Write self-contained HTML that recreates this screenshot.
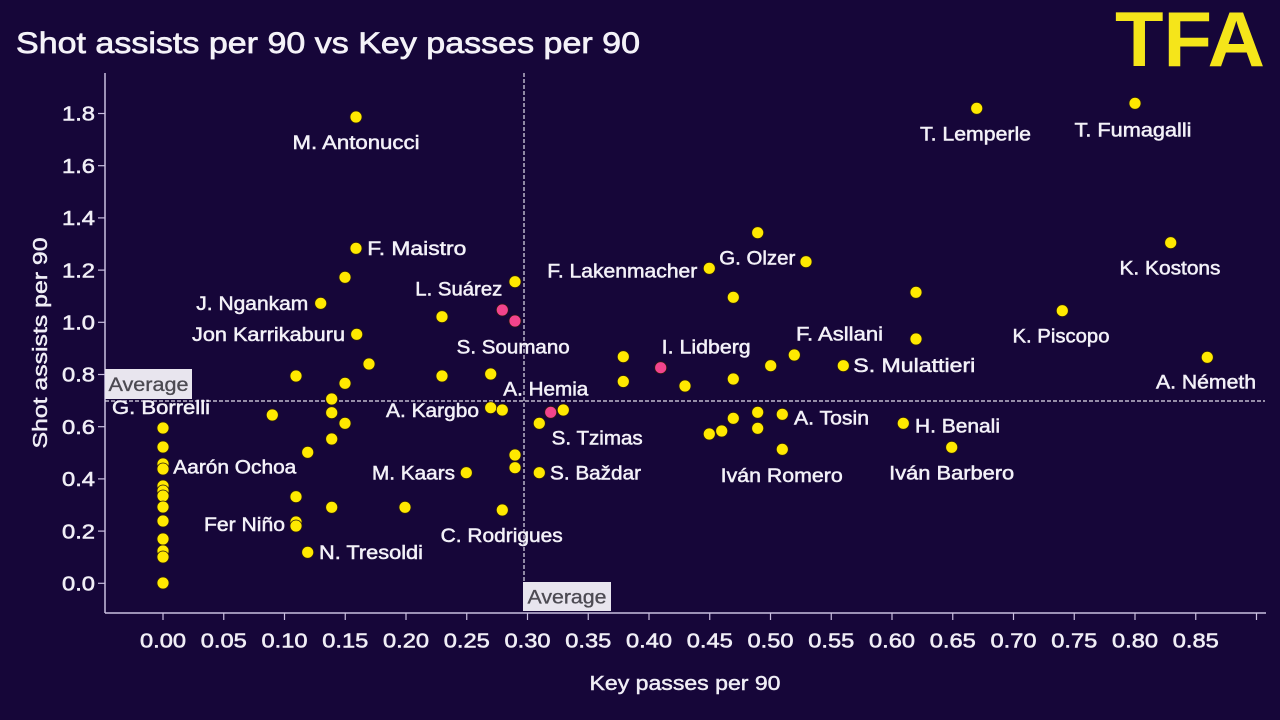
<!DOCTYPE html>
<html>
<head>
<meta charset="utf-8">
<style>
html,body{margin:0;padding:0;background:#160639;}
svg{display:block;}
text{font-family:"Liberation Sans",sans-serif;}
</style>
</head>
<body>
<svg width="1280" height="720" viewBox="0 0 1280 720" xmlns="http://www.w3.org/2000/svg">
<rect width="1280" height="720" fill="#160639"/>
<!-- Title -->
<text x="16" y="53" font-size="30" fill="#f4f2f8" stroke="#f4f2f8" stroke-width="0.7" textLength="624" lengthAdjust="spacingAndGlyphs">Shot assists per 90 vs Key passes per 90</text>
<!-- Logo -->
<text x="1115" y="66" font-size="78" font-weight="bold" fill="#f5e51a" textLength="150" lengthAdjust="spacingAndGlyphs">TFA</text>

<!-- Axes -->
<line x1="105" y1="73" x2="105" y2="613" stroke="#c9bfe0" stroke-width="1.5"/>
<line x1="105" y1="613" x2="1266" y2="613" stroke="#c9bfe0" stroke-width="1.5"/>

<!-- Y ticks -->
<g stroke="#c9bfe0" stroke-width="1.2">
<line x1="98" y1="583.3" x2="105" y2="583.3"/>
<line x1="98" y1="531.1" x2="105" y2="531.1"/>
<line x1="98" y1="478.9" x2="105" y2="478.9"/>
<line x1="98" y1="426.7" x2="105" y2="426.7"/>
<line x1="98" y1="374.5" x2="105" y2="374.5"/>
<line x1="98" y1="322.3" x2="105" y2="322.3"/>
<line x1="98" y1="270.1" x2="105" y2="270.1"/>
<line x1="98" y1="217.9" x2="105" y2="217.9"/>
<line x1="98" y1="165.7" x2="105" y2="165.7"/>
<line x1="98" y1="113.5" x2="105" y2="113.5"/>
</g>
<g font-size="20" fill="#f0eef6" stroke="#f0eef6" stroke-width="0.55" text-anchor="end">
<text x="95" y="590.5" textLength="33" lengthAdjust="spacingAndGlyphs">0.0</text>
<text x="95" y="538.3" textLength="33" lengthAdjust="spacingAndGlyphs">0.2</text>
<text x="95" y="486.1" textLength="33" lengthAdjust="spacingAndGlyphs">0.4</text>
<text x="95" y="433.9" textLength="33" lengthAdjust="spacingAndGlyphs">0.6</text>
<text x="95" y="381.7" textLength="33" lengthAdjust="spacingAndGlyphs">0.8</text>
<text x="95" y="329.5" textLength="33" lengthAdjust="spacingAndGlyphs">1.0</text>
<text x="95" y="277.3" textLength="33" lengthAdjust="spacingAndGlyphs">1.2</text>
<text x="95" y="225.1" textLength="33" lengthAdjust="spacingAndGlyphs">1.4</text>
<text x="95" y="172.9" textLength="33" lengthAdjust="spacingAndGlyphs">1.6</text>
<text x="95" y="120.7" textLength="33" lengthAdjust="spacingAndGlyphs">1.8</text>
</g>

<!-- X ticks -->
<g stroke="#c9bfe0" stroke-width="1.2">
<line x1="163" y1="613" x2="163" y2="620"/>
<line x1="223.75" y1="613" x2="223.75" y2="620"/>
<line x1="284.5" y1="613" x2="284.5" y2="620"/>
<line x1="345.25" y1="613" x2="345.25" y2="620"/>
<line x1="406" y1="613" x2="406" y2="620"/>
<line x1="466.75" y1="613" x2="466.75" y2="620"/>
<line x1="527.5" y1="613" x2="527.5" y2="620"/>
<line x1="588.25" y1="613" x2="588.25" y2="620"/>
<line x1="649" y1="613" x2="649" y2="620"/>
<line x1="709.75" y1="613" x2="709.75" y2="620"/>
<line x1="770.5" y1="613" x2="770.5" y2="620"/>
<line x1="831.25" y1="613" x2="831.25" y2="620"/>
<line x1="892" y1="613" x2="892" y2="620"/>
<line x1="952.75" y1="613" x2="952.75" y2="620"/>
<line x1="1013.5" y1="613" x2="1013.5" y2="620"/>
<line x1="1074.25" y1="613" x2="1074.25" y2="620"/>
<line x1="1135" y1="613" x2="1135" y2="620"/>
<line x1="1195.75" y1="613" x2="1195.75" y2="620"/>
<line x1="1256.5" y1="613" x2="1256.5" y2="620"/>
</g>
<g font-size="20" fill="#f0eef6" stroke="#f0eef6" stroke-width="0.55" text-anchor="middle">
<text x="163" y="647.5" textLength="46" lengthAdjust="spacingAndGlyphs">0.00</text>
<text x="223.75" y="647.5" textLength="46" lengthAdjust="spacingAndGlyphs">0.05</text>
<text x="284.5" y="647.5" textLength="46" lengthAdjust="spacingAndGlyphs">0.10</text>
<text x="345.25" y="647.5" textLength="46" lengthAdjust="spacingAndGlyphs">0.15</text>
<text x="406" y="647.5" textLength="46" lengthAdjust="spacingAndGlyphs">0.20</text>
<text x="466.75" y="647.5" textLength="46" lengthAdjust="spacingAndGlyphs">0.25</text>
<text x="527.5" y="647.5" textLength="46" lengthAdjust="spacingAndGlyphs">0.30</text>
<text x="588.25" y="647.5" textLength="46" lengthAdjust="spacingAndGlyphs">0.35</text>
<text x="649" y="647.5" textLength="46" lengthAdjust="spacingAndGlyphs">0.40</text>
<text x="709.75" y="647.5" textLength="46" lengthAdjust="spacingAndGlyphs">0.45</text>
<text x="770.5" y="647.5" textLength="46" lengthAdjust="spacingAndGlyphs">0.50</text>
<text x="831.25" y="647.5" textLength="46" lengthAdjust="spacingAndGlyphs">0.55</text>
<text x="892" y="647.5" textLength="46" lengthAdjust="spacingAndGlyphs">0.60</text>
<text x="952.75" y="647.5" textLength="46" lengthAdjust="spacingAndGlyphs">0.65</text>
<text x="1013.5" y="647.5" textLength="46" lengthAdjust="spacingAndGlyphs">0.70</text>
<text x="1074.25" y="647.5" textLength="46" lengthAdjust="spacingAndGlyphs">0.75</text>
<text x="1135" y="647.5" textLength="46" lengthAdjust="spacingAndGlyphs">0.80</text>
<text x="1195.75" y="647.5" textLength="46" lengthAdjust="spacingAndGlyphs">0.85</text>
</g>

<!-- Axis titles -->
<text x="685" y="690" font-size="20" fill="#f0eef6" stroke="#f0eef6" stroke-width="0.45" text-anchor="middle" textLength="191" lengthAdjust="spacingAndGlyphs">Key passes per 90</text>
<text transform="translate(47,343) rotate(-90)" x="0" y="0" font-size="20" fill="#f0eef6" stroke="#f0eef6" stroke-width="0.45" text-anchor="middle" textLength="211" lengthAdjust="spacingAndGlyphs">Shot assists per 90</text>

<!-- Average lines -->
<line x1="105" y1="401" x2="1265" y2="401" stroke="#e2deec" stroke-width="1.2" stroke-dasharray="4,2"/>
<line x1="524" y1="73" x2="524" y2="613" stroke="#e2deec" stroke-width="1.2" stroke-dasharray="4,2"/>

<!-- Dots -->
<g fill="#ffe900" stroke="#2a1a10" stroke-width="0.8">
<circle cx="163" cy="428" r="6"/>
<circle cx="163" cy="447" r="6"/>
<circle cx="163" cy="464" r="6"/>
<circle cx="163" cy="469" r="6"/>
<circle cx="163" cy="486" r="6"/>
<circle cx="163" cy="491" r="6"/>
<circle cx="163" cy="496" r="6"/>
<circle cx="163" cy="507" r="6"/>
<circle cx="163" cy="521" r="6"/>
<circle cx="163" cy="539" r="6"/>
<circle cx="163" cy="551" r="6"/>
<circle cx="163" cy="557" r="6"/>
<circle cx="163" cy="583" r="6"/>
<circle cx="272.3" cy="415" r="6"/>
<circle cx="296" cy="376" r="6"/>
<circle cx="296" cy="496.7" r="6"/>
<circle cx="296" cy="522" r="6"/>
<circle cx="296" cy="526" r="6"/>
<circle cx="307.7" cy="452.3" r="6"/>
<circle cx="307.7" cy="552.3" r="6"/>
<circle cx="331.7" cy="399" r="6"/>
<circle cx="331.7" cy="412.7" r="6"/>
<circle cx="331.7" cy="439" r="6"/>
<circle cx="331.7" cy="507.3" r="6"/>
<circle cx="345" cy="383.3" r="6"/>
<circle cx="345" cy="423.3" r="6"/>
<circle cx="345" cy="277.3" r="6"/>
<circle cx="369" cy="364" r="6"/>
<circle cx="356" cy="248.3" r="6"/>
<circle cx="320.7" cy="303.3" r="6"/>
<circle cx="356.7" cy="334.3" r="6"/>
<circle cx="356" cy="117" r="6"/>
<circle cx="405" cy="507.3" r="6"/>
<circle cx="442" cy="316.7" r="6"/>
<circle cx="442" cy="376" r="6"/>
<circle cx="490.7" cy="374" r="6"/>
<circle cx="490.7" cy="407.7" r="6"/>
<circle cx="502.3" cy="410" r="6"/>
<circle cx="515" cy="455" r="6"/>
<circle cx="515" cy="467.7" r="6"/>
<circle cx="466.3" cy="472.7" r="6"/>
<circle cx="502.3" cy="510" r="6"/>
<circle cx="515" cy="281.7" r="6"/>
<circle cx="539.3" cy="423.3" r="6"/>
<circle cx="563.3" cy="410" r="6"/>
<circle cx="539.3" cy="472.7" r="6"/>
<circle cx="623.3" cy="356.7" r="6"/>
<circle cx="623.3" cy="381.5" r="6"/>
<circle cx="685" cy="386" r="6"/>
<circle cx="733.3" cy="379" r="6"/>
<circle cx="770.7" cy="365.7" r="6"/>
<circle cx="709.3" cy="434" r="6"/>
<circle cx="721.7" cy="431" r="6"/>
<circle cx="733.3" cy="418.3" r="6"/>
<circle cx="757.7" cy="412.3" r="6"/>
<circle cx="757.7" cy="428.3" r="6"/>
<circle cx="782.3" cy="414.3" r="6"/>
<circle cx="782.3" cy="449.3" r="6"/>
<circle cx="757.7" cy="232.7" r="6"/>
<circle cx="806" cy="261.7" r="6"/>
<circle cx="709.3" cy="268.3" r="6"/>
<circle cx="733.3" cy="297.3" r="6"/>
<circle cx="916" cy="292.3" r="6"/>
<circle cx="916" cy="339" r="6"/>
<circle cx="794.3" cy="355" r="6"/>
<circle cx="843.3" cy="365.7" r="6"/>
<circle cx="976.7" cy="108.3" r="6"/>
<circle cx="1135" cy="103.3" r="6"/>
<circle cx="1170.7" cy="242.7" r="6"/>
<circle cx="1062.3" cy="310.7" r="6"/>
<circle cx="1207.3" cy="357.3" r="6"/>
<circle cx="903.3" cy="423.3" r="6"/>
<circle cx="951.7" cy="447.3" r="6"/>
</g>
<g fill="#f2448c" stroke="#2a1a10" stroke-width="0.8">
<circle cx="502.3" cy="310" r="6"/>
<circle cx="515" cy="321" r="6"/>
<circle cx="550.7" cy="412.3" r="6"/>
<circle cx="660.7" cy="367.7" r="6"/>
</g>

<!-- Labels -->
<g font-size="19" fill="#f3f1f8" stroke="#f3f1f8" stroke-width="0.5">
<text x="356" y="149" text-anchor="middle" textLength="127" lengthAdjust="spacingAndGlyphs">M. Antonucci</text>
<text x="975.5" y="140.3" text-anchor="middle" textLength="111" lengthAdjust="spacingAndGlyphs">T. Lemperle</text>
<text x="1133" y="136.3" text-anchor="middle" textLength="117" lengthAdjust="spacingAndGlyphs">T. Fumagalli</text>
<text x="1170" y="274.7" text-anchor="middle" textLength="101" lengthAdjust="spacingAndGlyphs">K. Kostons</text>
<text x="1061" y="342.7" text-anchor="middle" textLength="97" lengthAdjust="spacingAndGlyphs">K. Piscopo</text>
<text x="1206" y="388.7" text-anchor="middle" textLength="100" lengthAdjust="spacingAndGlyphs">A. Németh</text>
<text x="853.3" y="372" textLength="122" lengthAdjust="spacingAndGlyphs">S. Mulattieri</text>
<text x="796" y="340.3" textLength="87" lengthAdjust="spacingAndGlyphs">F. Asllani</text>
<text x="915" y="432.7" textLength="85" lengthAdjust="spacingAndGlyphs">H. Benali</text>
<text x="951.7" y="479.3" text-anchor="middle" textLength="125" lengthAdjust="spacingAndGlyphs">Iván Barbero</text>
<text x="794" y="424.3" textLength="75" lengthAdjust="spacingAndGlyphs">A. Tosin</text>
<text x="720.7" y="482" textLength="122" lengthAdjust="spacingAndGlyphs">Iván Romero</text>
<text x="661.7" y="353.7" textLength="89" lengthAdjust="spacingAndGlyphs">I. Lidberg</text>
<text x="719.3" y="264.7" textLength="76" lengthAdjust="spacingAndGlyphs">G. Olzer</text>
<text x="697.3" y="277.7" text-anchor="end" textLength="150" lengthAdjust="spacingAndGlyphs">F. Lakenmacher</text>
<text x="367.3" y="255" textLength="99" lengthAdjust="spacingAndGlyphs">F. Maistro</text>
<text x="502.3" y="295.3" text-anchor="end" textLength="87" lengthAdjust="spacingAndGlyphs">L. Suárez</text>
<text x="308.3" y="310" text-anchor="end" textLength="112" lengthAdjust="spacingAndGlyphs">J. Ngankam</text>
<text x="345" y="341" text-anchor="end" textLength="153" lengthAdjust="spacingAndGlyphs">Jon Karrikaburu</text>
<text x="456.7" y="353.7" textLength="113" lengthAdjust="spacingAndGlyphs">S. Soumano</text>
<text x="503.3" y="395.3" textLength="85" lengthAdjust="spacingAndGlyphs">A. Hemia</text>
<text x="479" y="417" text-anchor="end" textLength="93" lengthAdjust="spacingAndGlyphs">A. Kargbo</text>
<text x="551.7" y="444.7" textLength="91" lengthAdjust="spacingAndGlyphs">S. Tzimas</text>
<text x="455" y="479.5" text-anchor="end" textLength="83" lengthAdjust="spacingAndGlyphs">M. Kaars</text>
<text x="550" y="479.7" textLength="91" lengthAdjust="spacingAndGlyphs">S. Baždar</text>
<text x="440.7" y="542" textLength="122" lengthAdjust="spacingAndGlyphs">C. Rodrigues</text>
<text x="112" y="414" textLength="98" lengthAdjust="spacingAndGlyphs">G. Borrelli</text>
<text x="173.3" y="473.7" textLength="123" lengthAdjust="spacingAndGlyphs">Aarón Ochoa</text>
<text x="285" y="531" text-anchor="end" textLength="81" lengthAdjust="spacingAndGlyphs">Fer Niño</text>
<text x="319" y="559" textLength="104" lengthAdjust="spacingAndGlyphs">N. Tresoldi</text>
</g>

<!-- Average boxes -->
<rect x="105" y="369" width="87" height="30" fill="#e8e5ee"/>
<text x="108.5" y="391" font-size="19" fill="#4c4a52" stroke="#4c4a52" stroke-width="0.3" textLength="80" lengthAdjust="spacingAndGlyphs">Average</text>
<rect x="523" y="582" width="88" height="29" fill="#e8e5ee"/>
<text x="527.5" y="603.5" font-size="19" fill="#4c4a52" stroke="#4c4a52" stroke-width="0.3" textLength="79" lengthAdjust="spacingAndGlyphs">Average</text>
</svg>
</body>
</html>
